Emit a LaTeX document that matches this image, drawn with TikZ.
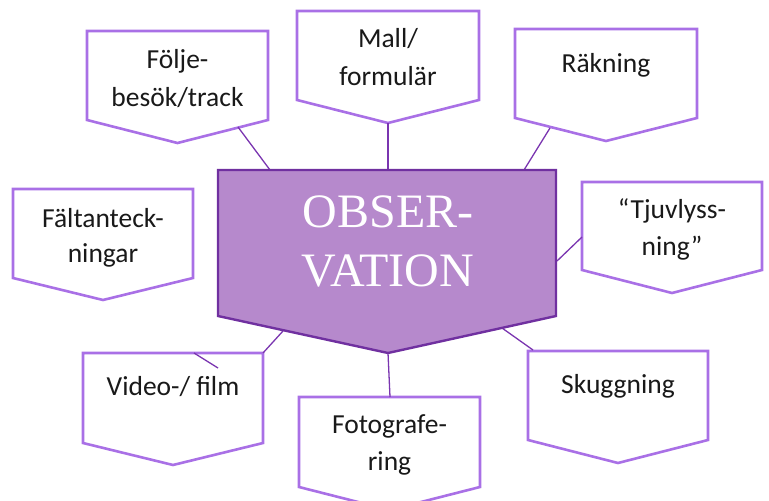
\documentclass[tikz,border=0pt]{standalone}
\usepackage{fontspec}
\setmainfont{Carlito}
\newfontfamily\obsfont{Liberation Serif}
\usetikzlibrary{calc}
\definecolor{boxline}{HTML}{A970E6}
\definecolor{centfill}{HTML}{B689CC}
\definecolor{centline}{HTML}{7030A0}
\definecolor{conn}{HTML}{7A35B0}
\tikzset{
  pbox/.style={draw=boxline, line width=2.6pt, fill=white, line join=miter},
  cbox/.style={draw=centline, line width=2.4pt, fill=centfill, line join=miter},
  link/.style={draw=conn, line width=1.3pt},
  lbl/.style={anchor=base, font=\fontsize{27.5}{38}\selectfont, text=black!90, inner sep=0pt},
  obs/.style={anchor=base, font=\obsfont\fontsize{48}{58}\selectfont, text=white, inner sep=0pt}
}
\newcommand\pentbox[6]{%
  \coordinate (#1-nw) at (#2,#3);
  \coordinate (#1-ne) at (#4,#3);
  \coordinate (#1-se) at (#4,#5);
  \coordinate (#1-sw) at (#2,#5);
  \coordinate (#1-tip) at ({(#2+#4)/2},#6);
  \draw[pbox] (#1-nw) -- (#1-ne) -- (#1-se) -- (#1-tip) -- (#1-sw) -- cycle;
}
\begin{document}
\begin{tikzpicture}[x=1pt,y=-1pt]
\useasboundingbox (0,0) rectangle (769,501);
\clip (0,0) rectangle (769,501);

% boxes
\pentbox{folj}{87}{31}{268}{120}{143}
\pentbox{mall}{297}{11}{479}{100}{123}
\pentbox{rakn}{515}{29}{697}{118}{141}
\pentbox{falt}{13}{189}{193}{278}{300}
\pentbox{tjuv}{582}{182}{762}{270}{293}
\pentbox{video}{83}{353}{263}{443}{465}
\pentbox{foto}{299}{397}{480}{487}{510}
\pentbox{skug}{528}{351}{708}{440}{463}

% central shape
\coordinate (obs-nw) at (218,170);
\coordinate (obs-ne) at (556,170);
\coordinate (obs-se) at (556,316);
\coordinate (obs-sw) at (218,316);
\coordinate (obs-tip) at (388,353);

% connector end points
\coordinate (folj-a) at (238,127);
\coordinate (obs-a) at (270,170);
\coordinate (obs-b) at (388,170);
\coordinate (rakn-a) at (550,128);
\coordinate (obs-c) at (524,170);
\coordinate (tjuv-a) at (582,237);
\coordinate (obs-d) at (557,261);
\coordinate (obs-e) at (283,331);
\coordinate (obs-f) at (502,328);
\coordinate (skug-a) at (533,350);
\coordinate (foto-a) at (390,397);
\coordinate (video-x) at (194,353);
\coordinate (video-y) at (218,368);

\draw[link] (folj-a) -- (obs-a);
\draw[link] (mall-tip) -- (obs-b);
\draw[link] (rakn-a) -- (obs-c);
\draw[link] (tjuv-a) -- (obs-d);
\draw[link] (video-ne) -- (obs-e);
\draw[link] (obs-f) -- (skug-a);
\draw[link] (obs-tip) -- (foto-a);
\draw[link] (video-x) -- (video-y);

\draw[cbox] (obs-nw) -- (obs-ne) -- (obs-se) -- (obs-tip) -- (obs-sw) -- cycle;

% texts
\node[obs] (t-obs1) at (388,227) {OBSER-};
\node[obs] (t-obs2) at (388,286) {VATION};

\node[lbl] (t-folj1) at (177.5,68) {Följe-};
\node[lbl] (t-folj2) at (177.5,106) {besök/track};
\node[lbl] (t-mall1) at (388,47) {Mall/};
\node[lbl] (t-mall2) at (388,85) {formulär};
\node[lbl] (t-rakn) at (606,72) {Räkning};
\node[lbl] (t-falt1) at (103,227) {Fältanteck-};
\node[lbl] (t-falt2) at (103,262) {ningar};
\node[lbl] (t-tjuv1) at (672,218) {“Tjuvlyss-};
\node[lbl] (t-tjuv2) at (672,255) {ning”};
\node[lbl] (t-video) at (173,395) {Video-/ film};
\node[lbl] (t-foto1) at (389.5,433) {Fotografe-};
\node[lbl] (t-foto2) at (389.5,470) {ring};
\node[lbl] (t-skug) at (618,393) {Skuggning};
\end{tikzpicture}
\end{document}
